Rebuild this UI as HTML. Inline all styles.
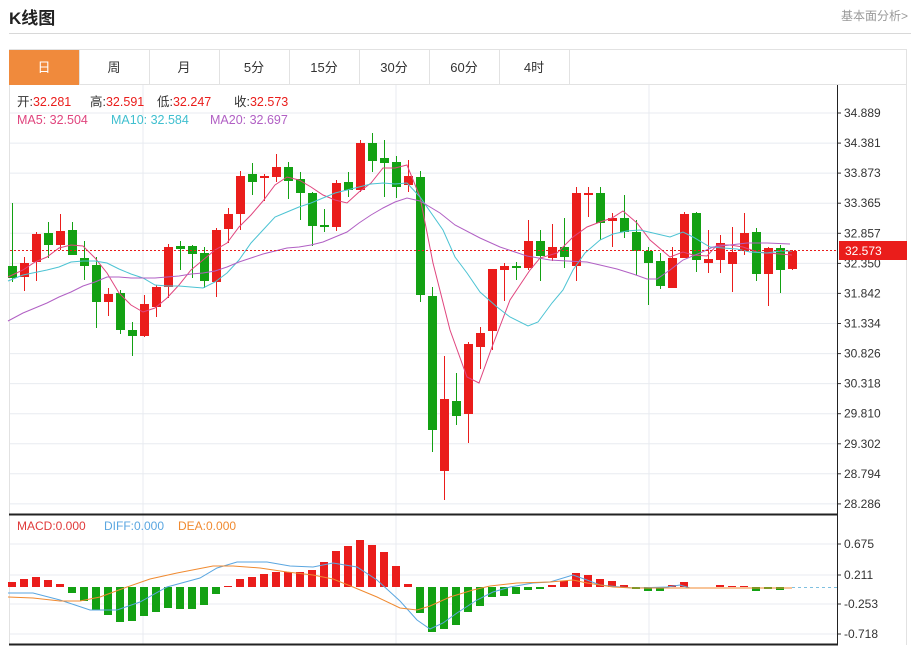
<!DOCTYPE html>
<html><head><meta charset="utf-8">
<style>
html,body{margin:0;padding:0;background:#fff;width:913px;height:646px;overflow:hidden;font-family:"Liberation Sans","Noto Sans CJK SC",sans-serif;}
.abs{position:absolute;white-space:nowrap;}
</style></head>
<body>
<div class="abs" style="left:9px;top:4px;font-size:17px;font-weight:bold;color:#222;">K线图</div>
<div class="abs" style="right:5px;top:7px;font-size:12px;color:#999;">基本面分析&gt;</div>
<div class="abs" style="left:9px;top:33px;width:902px;height:1px;background:#d8d8d8;"></div>
<svg id="s" width="913" height="646" style="position:absolute;left:0;top:0" xmlns="http://www.w3.org/2000/svg" font-family="Liberation Sans, Noto Sans CJK SC, sans-serif"></svg>
<script>
var S=document.getElementById('s'),h='';
function R(x,y,w,hh,f,ex){h+='<rect x="'+x+'" y="'+y+'" width="'+w+'" height="'+hh+'" fill="'+f+'" '+(ex||'')+'/>';}
function L(x1,y1,x2,y2,c,ex){h+='<line x1="'+x1+'" y1="'+y1+'" x2="'+x2+'" y2="'+y2+'" stroke="'+c+'" '+(ex||'')+'/>';}
function T(x,y,t,c,sz,ex){h+='<text x="'+x+'" y="'+y+'" fill="'+c+'" font-size="'+(sz||12)+'" '+(ex||'')+'>'+t+'</text>';}
function P(pts,c,w){h+='<polyline fill="none" stroke="'+c+'" stroke-width="'+(w||1)+'" points="'+pts.map(function(p){return p.join(',')}).join(' ')+'"/>';}
R(9.5,49.5,897,35,'#fff','stroke="#e2e2e2"');
var tabs=['日','周','月','5分','15分','30分','60分','4时'];
for(var i=0;i<8;i++){var x=9+70*i;if(i==0)R(x,50,70,35,'#f08a3c');L(x+70.5,50,x+70.5,85,'#e2e2e2');T(x+35,72,tabs[i],i==0?'#fff':'#333',13,'text-anchor="middle"');}
L(9.5,85,9.5,645,'#e2e2e2');L(906.5,85,906.5,645,'#e2e2e2');
var ticks=['34.889','34.381','33.873','33.365','32.857','32.350','31.842','31.334','30.826','30.318','29.810','29.302','28.794','28.286'];
for(var i=0;i<14;i++){var y=113+30.07*i;L(10,y.toFixed(1),837,y.toFixed(1),'#e8ebf0');L(837,y.toFixed(1),841,y.toFixed(1),'#333');T(844,(y+4).toFixed(1),ticks[i],'#333',12);}
[143,396,649].forEach(function(x){L(x,85,x,644,'#e8ebf0');});
var my=[[544,'0.675'],[575,'0.211'],[604,'-0.253'],[634,'-0.718']];
my.forEach(function(m){L(10,m[0],837,m[0],'#e8ebf0');L(837,m[0],841,m[0],'#333');T(844,m[0]+4,m[1],'#333',12);});
var C=[[266,278,203,282,'g'],[263,277,257,291,'r'],[234,262,232,281,'r'],[233,245,222,258,'g'],[231,245,214,250,'r'],[230,255,222,255,'g'],[258,266,241,280,'g'],[265,302,257,328,'g'],[294,302,288,316,'r'],[293,330,290,334,'g'],[330,336,322,356,'g'],[304,336,295,337,'r'],[287,307,285,317,'r'],[247,287,244,298,'r'],[246,249,241,270,'g'],[246,254,245,278,'g'],[253,281,247,288,'g'],[230,282,228,297,'r'],[214,229,208,243,'r'],[176,214,171,230,'r'],[174,182,163,195,'g'],[176,178,174,201,'r'],[167,177,154,182,'r'],[167,181,162,199,'g'],[179,193,172,220,'g'],[193,226,192,246,'g'],[225,227,209,232,'g'],[183,227,180,231,'r'],[182,190,172,197,'g'],[143,190,140,192,'r'],[143,161,133,172,'g'],[158,163,140,197,'g'],[162,187,156,198,'g'],[176,185,160,192,'r'],[177,295,171,302,'g'],[296,430,287,452,'g'],[399,471,356,500,'r'],[401,416,373,425,'g'],[344,414,342,443,'r'],[333,347,327,369,'r'],[269,331,269,350,'r'],[266,270,263,301,'r'],[266,268,262,280,'g'],[241,268,220,270,'r'],[241,256,230,281,'g'],[247,258,224,261,'r'],[247,257,218,268,'g'],[193,266,187,281,'r'],[193,195,187,217,'r'],[193,223,187,240,'g'],[218,221,213,247,'r'],[218,232,195,238,'g'],[232,251,220,275,'g'],[251,263,247,305,'g'],[261,286,253,289,'g'],[258,288,247,288,'r'],[214,258,212,258,'r'],[213,260,212,272,'g'],[259,263,230,273,'r'],[243,260,235,273,'r'],[252,264,227,292,'r'],[233,251,213,255,'r'],[232,274,228,281,'g'],[248,274,247,306,'r'],[248,270,245,293,'g'],[251,269,250,270,'r']];
var RED='#ea1d1b',GRN='#13a113';
C.forEach(function(c,i){var x=12+12*i,col=c[4]=='r'?RED:GRN;L(x+.5,c[2],x+.5,c[3],col);R(x-4,c[0],9,Math.max(2,c[1]-c[0]),col);});
P([[8,277],[23,270],[35,262],[47,257],[59,248],[71,245],[83,246],[95,258],[107,273],[119,293],[131,305],[143,312],[155,308],[167,298],[179,285],[191,270],[203,260],[215,250],[227,243],[239,227],[251,215],[263,201],[275,185],[287,177],[299,180],[311,187],[323,195],[335,200],[347,203],[359,192],[371,183],[383,168],[395,168],[407,165],[420,197],[433,263],[450,330],[467,377],[479,383],[492,347],[510,300],[530,270],[540,258],[557,253],[573,237],[587,227],[600,222],[612,218],[623,211],[637,223],[650,240],[670,257],[683,252],[693,255],[707,256],[717,245],[730,245],[743,247],[757,252],[767,253],[780,254],[792,255]],'#e0457e');
P([[8,281],[23,275],[47,270],[59,267],[71,262],[83,261],[95,261],[107,263],[119,269],[131,274],[143,278],[155,285],[167,286],[179,286],[191,287],[203,288],[215,282],[227,273],[239,260],[251,243],[263,230],[275,217],[287,212],[299,207],[311,203],[323,198],[335,193],[347,190],[359,187],[371,184],[383,183],[395,184],[407,183],[420,197],[443,230],[455,257],[467,273],[480,292],[497,307],[510,317],[528,326],[538,322],[552,303],[563,290],[573,270],[585,253],[600,240],[613,234],[627,231],[640,230],[653,233],[670,237],[683,232],[693,237],[710,247],[723,248],[737,249],[750,252],[767,253],[780,251],[792,251]],'#4cc3d3');
P([[8,321],[23,313],[47,303],[59,297],[71,292],[83,286],[95,282],[107,277],[119,277],[131,278],[143,278],[155,278],[167,277],[179,276],[191,274],[203,273],[215,271],[227,267],[239,262],[251,258],[263,254],[275,251],[287,248],[299,247],[311,245],[323,242],[335,237],[347,232],[359,223],[371,215],[383,208],[395,202],[407,198],[420,201],[440,213],[455,225],[480,238],[500,247],[527,256],[550,260],[567,261],[587,262],[600,265],[617,269],[633,274],[647,279],[657,279],[670,270],[683,260],[700,253],[713,247],[730,245],[747,243],[767,243],[790,244]],'#b160c4');
L(10,250.5,838,250.5,RED,'stroke-dasharray="2,2"');
R(839,241,68,19,RED);T(845,255,'32.573','#fff',12);
var M=[582,579,577,580,584,593,601,610,615,622,621,616,612,608,609,609,605,594,586,579,577,574,572,572,572,570,562,551,546,540,545,552,566,584,613,632,629,625,612,606,597,596,594,590,589,585,581,573,575,579,581,585,589,591,591,585,582,587,587,585,586,586,591,589,590,587];
var Z=587;
M.forEach(function(v,i){var x=12+12*i-4;if(v<Z)R(x,v,8,Z-v,RED);else if(v>Z)R(x,Z,8,v-Z,GRN);});
L(792,587.5,837,587.5,'#7fc0e0','stroke-dasharray="3,3"');
P([[8,593],[33,593],[60,600],[90,610],[117,610],[140,602],[167,587],[200,578],[217,568],[237,562],[267,562],[290,566],[313,567],[333,563],[357,567],[377,580],[400,601],[417,620],[430,629],[443,623],[457,613],[477,600],[493,592],[510,587],[533,583],[550,582],[573,575],[587,580],[600,585],[620,587],[633,588],[667,587],[680,585],[690,588],[792,588]],'#5aa6e0');
P([[8,597],[33,598],[60,601],[80,601],[100,597],[127,587],[150,579],[177,573],[213,566],[233,566],[260,568],[287,572],[313,575],[333,579],[353,587],[377,597],[400,608],[417,610],[430,606],[450,597],[473,590],[490,586],[517,583],[550,582],[573,580],[587,583],[613,587],[633,588],[792,588]],'#f08a30');
L(837.5,85,837.5,645,'#222');
L(9,514.5,838,514.5,'#222','stroke-width="2"');
L(9,644.5,838,644.5,'#222','stroke-width="2"');
function KV(x,k,v){h+='<text x="'+x+'" y="106" font-size="12.5" fill="#333">'+k+'<tspan fill="'+RED+'">'+v+'</tspan></text>';}
KV(17,'开:','32.281');KV(90,'高:','32.591');KV(157,'低:','32.247');KV(234,'收:','32.573');
T(17,124,'MA5: 32.504','#e0457e',12.5);T(111,124,'MA10: 32.584','#3fbfcf',12.5);T(210,124,'MA20: 32.697','#b160c4',12.5);
T(17,530,'MACD:0.000','#e03a3a',12);T(104,530,'DIFF:0.000','#5aa6e0',12);T(178,530,'DEA:0.000','#f08a30',12);
S.innerHTML=h;
</script>
</body></html>
